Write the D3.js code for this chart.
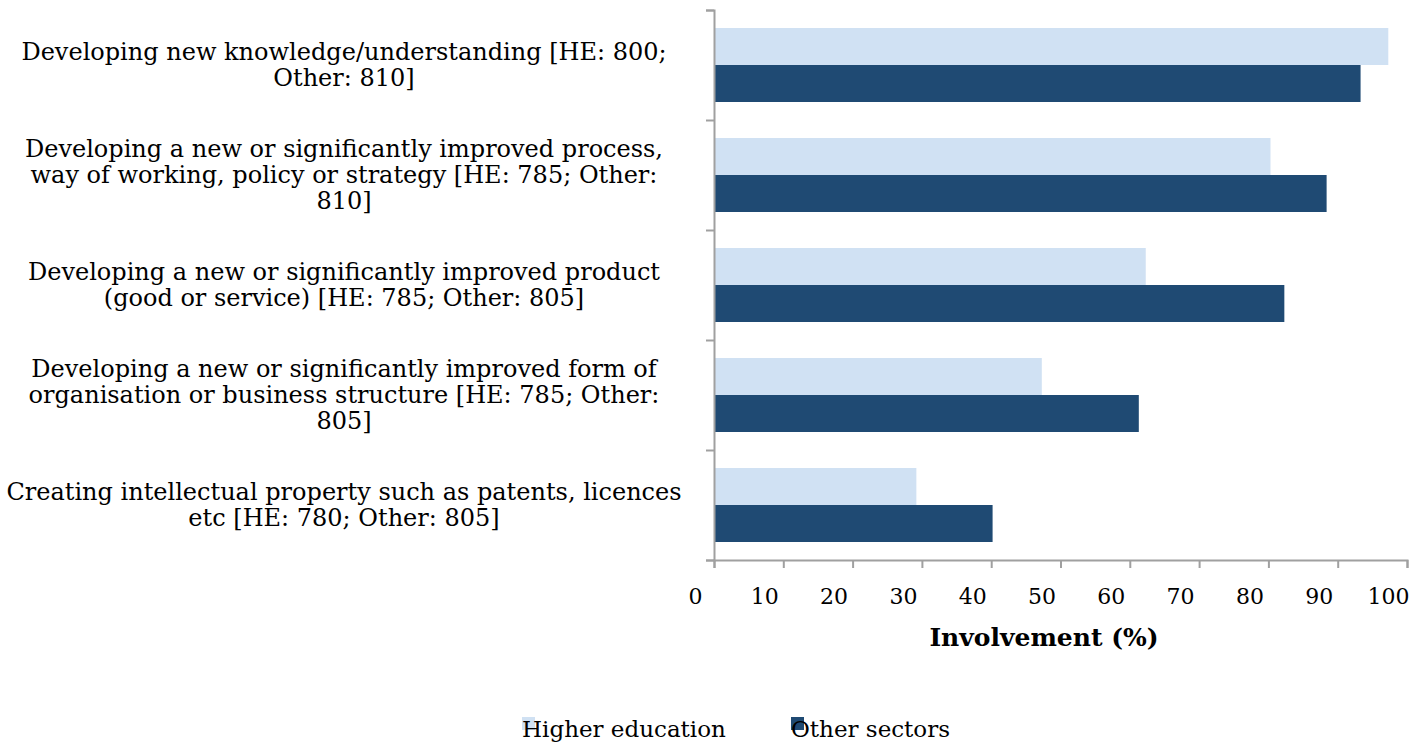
<!DOCTYPE html>
<html>
<head>
<meta charset="utf-8">
<script src="https://cdn.jsdelivr.net/npm/d3@7"></script>
<style>
  body { margin: 0; background: #fff; }
  svg { display: block; }
  .lbl { font-family: "DejaVu Serif", Georgia, serif; fill: #000; }
</style>
</head>
<body>
<div id="chart"></div>
<script>
// data
var categories = [
  ["Developing new knowledge/understanding [HE: 800;", "Other: 810]"],
  ["Developing a new or significantly improved process,", "way of working, policy or strategy [HE: 785; Other:", "810]"],
  ["Developing a new or significantly improved product", "(good or service) [HE: 785; Other: 805]"],
  ["Developing a new or significantly improved form of", "organisation or business structure [HE: 785; Other:", "805]"],
  ["Creating intellectual property such as patents, licences", "etc [HE: 780; Other: 805]"]
];
var seriesNames = ["Higher education", "Other sectors"];
var higherEd = [97.3, 80.3, 62.3, 47.3, 29.2];
var otherSectors = [93.3, 88.4, 82.3, 61.3, 40.2];
var xTicks = [0, 10, 20, 30, 40, 50, 60, 70, 80, 90, 100];
var colors = ["#d0e1f3", "#1f4a73"];

var width = 1412, height = 742;

var svg = d3.select("#chart").append("svg")
    .attr("width", width)
    .attr("height", height);

var x = d3.scaleLinear().domain([0, 100]).range([714, 1407]);

var idx = d3.range(categories.length);
var y = d3.scaleBand().domain(idx).range([10, 560]);
var ySub = d3.scaleBand().domain([0, 1]).range([18, 92]);
var yEdge = d3.scaleLinear().domain([0, categories.length]).range([10, 560]);

var rows = idx.map(function(i) { return [higherEd[i], otherSectors[i]]; });

// bars
var groups = svg.selectAll(".grp")
    .data(rows)
    .enter().append("g")
    .attr("class", "grp")
    .attr("transform", function(d, i) { return "translate(0," + y(i) + ")"; });

groups.selectAll("rect")
    .data(function(d) { return d; })
    .enter().append("rect")
    .attr("x", x(0))
    .attr("y", function(d, j) { return ySub(j); })
    .attr("width", function(d) { return x(d) - x(0); })
    .attr("height", ySub.bandwidth())
    .attr("fill", function(d, j) { return colors[j]; });

// y axis (ticks between categories)
var yAxis = svg.append("g")
    .attr("transform", "translate(" + x(0) + ",0)")
    .call(d3.axisLeft(yEdge).tickValues(d3.range(categories.length + 1)).tickSize(8).tickFormat(""));

// x axis
var xAxis = svg.append("g")
    .attr("transform", "translate(0," + yEdge(categories.length) + ")")
    .call(d3.axisBottom(x).tickValues(xTicks).tickSize(8).tickPadding(20).tickFormat(d3.format("d")));

[yAxis, xAxis].forEach(function(a) {
  a.select(".domain").attr("stroke", "#a0a0a0").attr("stroke-width", 2);
  a.selectAll(".tick line").attr("stroke", "#a0a0a0").attr("stroke-width", 2);
});
// labels sit a bit left of their ticks, like in the original
xAxis.selectAll(".tick text")
    .attr("class", "lbl")
    .attr("x", -19)
    .style("font-size", "22px")
    .attr("fill", "#000");

// category labels
var lineH = 26;
svg.selectAll(".cat")
    .data(categories)
    .enter().append("text")
    .attr("class", "lbl cat")
    .attr("text-anchor", "middle")
    .style("font-size", "24px")
    .each(function(lines, i) {
      var t = d3.select(this);
      var cy = y(i) + y.bandwidth() / 2 - (lines.length - 1) * lineH / 2;
      lines.forEach(function(s, k) {
        t.append("tspan")
          .attr("x", 344)
          .attr("y", cy + k * lineH)
          .attr("dy", "0.35em")
          .text(s);
      });
    });

// axis title
svg.append("text")
    .attr("class", "lbl")
    .attr("x", 1044)
    .attr("y", 637)
    .attr("dy", "0.35em")
    .attr("text-anchor", "middle")
    .style("font-size", "25px")
    .style("font-weight", "bold")
    .text("Involvement (%)");

// legend
var legendX = [522, 791];
var legend = svg.selectAll(".leg")
    .data(seriesNames)
    .enter().append("g")
    .attr("class", "leg")
    .attr("transform", function(d, i) { return "translate(" + legendX[i] + ",717)"; });

legend.append("rect")
    .attr("width", 13)
    .attr("height", 13)
    .attr("fill", function(d, i) { return colors[i]; });

legend.append("text")
    .attr("class", "lbl")
    .attr("x", 0)
    .attr("y", 20)
    .style("font-size", "23px")
    .text(function(d) { return d; });
</script>
</body>
</html>
